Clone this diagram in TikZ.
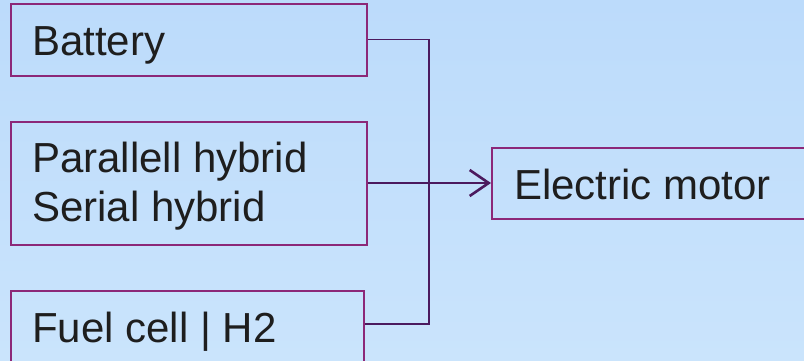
\documentclass[tikz,border=0pt]{standalone}
\usepackage{fontspec}
\setmainfont{Liberation Sans}
\usetikzlibrary{arrows.meta,calc}
\definecolor{bgtop}{HTML}{BCDBFB}
\definecolor{bgbot}{HTML}{CAE4FC}
\definecolor{boxline}{HTML}{8C2878}
\definecolor{conline}{HTML}{4B1A5E}
\definecolor{txtcol}{HTML}{1E1E1E}
\tikzset{
  box/.style={draw=boxline, line width=2pt, rectangle, inner sep=0pt},
  lbl/.style={anchor=base west, inner sep=0pt, text=txtcol, font=\fontsize{42}{49}\selectfont, align=left},
  conn/.style={draw=conline, line width=1.4pt},
  mainarrow/.style={draw=conline, line width=2.8pt, -{Straight Barb[length=19pt,width=26pt,line width=2.6pt]}}
}
\begin{document}
\begin{tikzpicture}[x=1pt,y=-1pt]
  \useasboundingbox (0,0) rectangle (804,360);
  \shade[top color=bgtop, bottom color=bgbot] (0,0) rectangle (804,360);
  \begin{scope}
  \clip (0,0) rectangle (804,360);
  \node[box, minimum width=356pt, minimum height=72pt] (bat) at (189,39.5) {};
  \node[box, minimum width=356pt, minimum height=123pt] (mid) at (189,183) {};
  \node[box, minimum width=353pt, minimum height=80pt] (fuel) at (187.5,331) {};
  \node[box, minimum width=318pt, minimum height=71pt] (em) at (651,183) {};
  \end{scope}
  \node[lbl] (tbat) at (32,55) {Battery};
  \node[lbl, anchor=north west] (tmid) at (32,143) {\vphantom{P}\smash{Parallell hybrid}\\Serial hybrid};
  \node[lbl] (tfuel) at (32,342) {Fuel cell | H2};
  \node[lbl] (tem) at (514,199) {Electric motor};
  \coordinate (j) at (429,183);
  \coordinate (fj) at ($(fuel.north east)+(0,34)$);
  \draw[conn] (bat.east) -| (j) |- (fj);
  \draw[mainarrow] (mid.east) -- (em.west);
\end{tikzpicture}
\end{document}
